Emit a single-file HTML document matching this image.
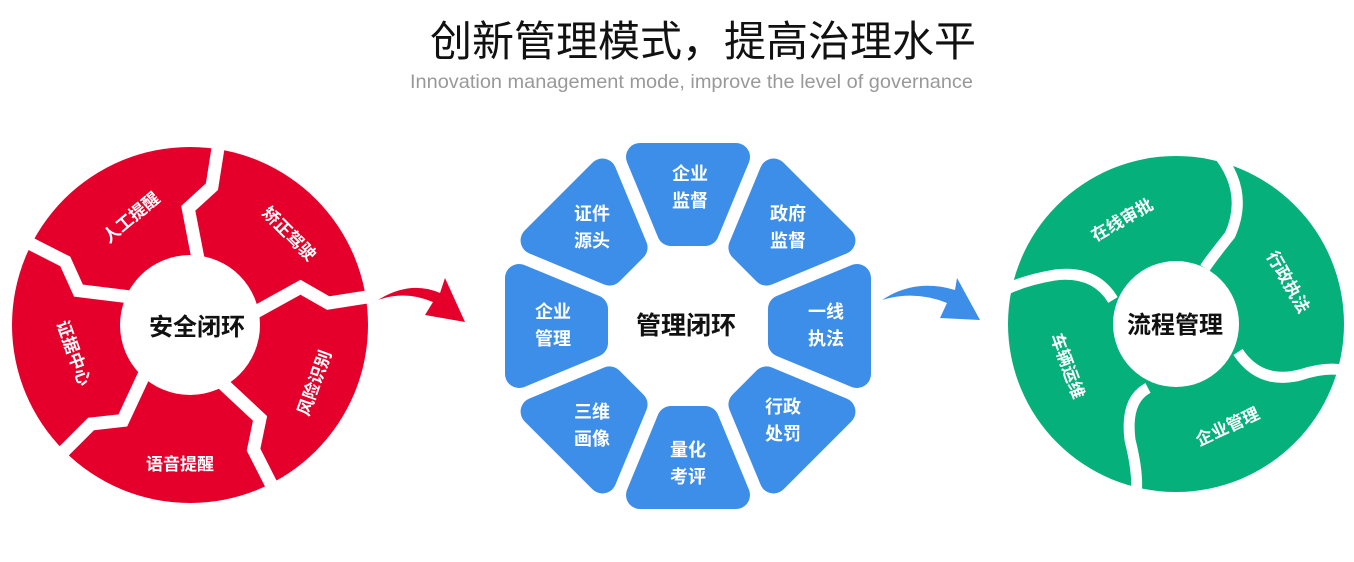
<!DOCTYPE html>
<html><head><meta charset="utf-8"><style>
html,body{margin:0;padding:0;background:#fff;}
body{width:1354px;height:557px;overflow:hidden;}
svg text{font-family:"Liberation Sans","Noto Sans CJK SC",sans-serif;}
</style></head><body>
<svg width="1354" height="557" viewBox="0 0 1354 557" xmlns="http://www.w3.org/2000/svg">
<text x="703" y="56" text-anchor="middle" font-size="42" fill="#111">创新管理模式，提高治理水平</text>
<text x="410" y="88" font-size="19.5" fill="#999" textLength="563" lengthAdjust="spacingAndGlyphs">Innovation management mode, improve the level of governance</text>

<!-- Red cycle -->
<g>
<circle cx="190" cy="325" r="178" fill="#e4002b"/>
<circle cx="190" cy="325" r="70" fill="#fff"/>
<g stroke="#fff" stroke-width="13" fill="none" stroke-linejoin="miter">
<g transform="rotate(-81 190 325)"><polyline points="250,325 305,305 330,325 380,325"/></g>
<g transform="rotate(-9 190 325)"><polyline points="250,325 305,305 330,325 380,325"/></g>
<g transform="rotate(63 190 325)"><polyline points="250,325 305,305 330,325 380,325"/></g>
<g transform="rotate(135 190 325)"><polyline points="250,325 305,305 330,325 380,325"/></g>
<g transform="rotate(207 190 325)"><polyline points="250,325 305,305 330,325 380,325"/></g>
</g>
<g fill="#fff" font-size="17" font-weight="bold" text-anchor="middle">
<text transform="translate(135,222) rotate(-40)">人工提醒</text>
<text transform="translate(285,238) rotate(45)">矫正驾驶</text>
<text transform="translate(320,385) rotate(-70)">风险识别</text>
<text transform="translate(180,470)">语音提醒</text>
<text transform="translate(68,355) rotate(70)">证据中心</text>
</g>
<text x="197" y="335" text-anchor="middle" font-size="24" font-weight="bold" fill="#111">安全闭环</text>
</g>

<!-- red arrow -->
<path d="M378,300 Q410,280 440,293 L445,278 L465,322 L425,315 L433,302 Q405,290 378,300 Z" fill="#e4002b"/>
<!-- blue arrow -->
<path d="M882,300 Q915,278 955,290 L957,278 L980,320 L940,318 L947,303 Q915,290 882,300 Z" fill="#3d8ee8"/>

<!-- Blue octagon -->
<g fill="#3d8ee8" stroke="#3d8ee8" stroke-width="28" stroke-linejoin="round">
<g transform="translate(688,326)">
<polygon points="-48,-169 48,-169 17,-94 -17,-94"/>
<polygon transform="rotate(45)" points="-48,-169 48,-169 17,-94 -17,-94"/>
<polygon transform="rotate(90)" points="-48,-169 48,-169 17,-94 -17,-94"/>
<polygon transform="rotate(135)" points="-48,-169 48,-169 17,-94 -17,-94"/>
<polygon transform="rotate(180)" points="-48,-169 48,-169 17,-94 -17,-94"/>
<polygon transform="rotate(225)" points="-48,-169 48,-169 17,-94 -17,-94"/>
<polygon transform="rotate(270)" points="-48,-169 48,-169 17,-94 -17,-94"/>
<polygon transform="rotate(315)" points="-48,-169 48,-169 17,-94 -17,-94"/>
</g>
</g>
<g fill="#fff" font-size="18" font-weight="bold" text-anchor="middle">
<text x="690" y="180">企业</text><text x="690" y="207">监督</text>
<text x="788" y="220">政府</text><text x="788" y="247">监督</text>
<text x="826" y="318">一线</text><text x="826" y="345">执法</text>
<text x="783" y="413">行政</text><text x="783" y="440">处罚</text>
<text x="688" y="456">量化</text><text x="688" y="483">考评</text>
<text x="592" y="418">三维</text><text x="592" y="445">画像</text>
<text x="553" y="318">企业</text><text x="553" y="345">管理</text>
<text x="592" y="220">证件</text><text x="592" y="247">源头</text>
</g>
<text x="686" y="334" text-anchor="middle" font-size="25" font-weight="bold" fill="#111">管理闭环</text>

<!-- Green cycle -->
<circle cx="1176" cy="324" r="168" fill="#05b07b"/>
<circle cx="1176" cy="324" r="63" fill="#fff"/>
<g stroke="#fff" stroke-width="11" fill="none">
<path d="M1215,150 Q1250,190 1230,235 Q1210,260 1205,268"/>
<path d="M1238,352 Q1260,385 1300,375 Q1330,365 1350,372"/>
<path d="M1148,388 Q1125,400 1130,440 Q1140,480 1135,500"/>
<path d="M1113,300 Q1095,270 1055,275 Q1025,280 1005,290"/>
</g>
<g fill="#fff" font-size="17" font-weight="bold" text-anchor="middle">
<text transform="translate(1125,225) rotate(-30)">在线审批</text>
<text transform="translate(1283,285) rotate(60)">行政执法</text>
<text transform="translate(1230,432) rotate(-25)">企业管理</text>
<text transform="translate(1062,368) rotate(70)">车辆运维</text>
</g>
<text x="1175" y="333" text-anchor="middle" font-size="24" font-weight="bold" fill="#111">流程管理</text>
</svg>
</body></html>
